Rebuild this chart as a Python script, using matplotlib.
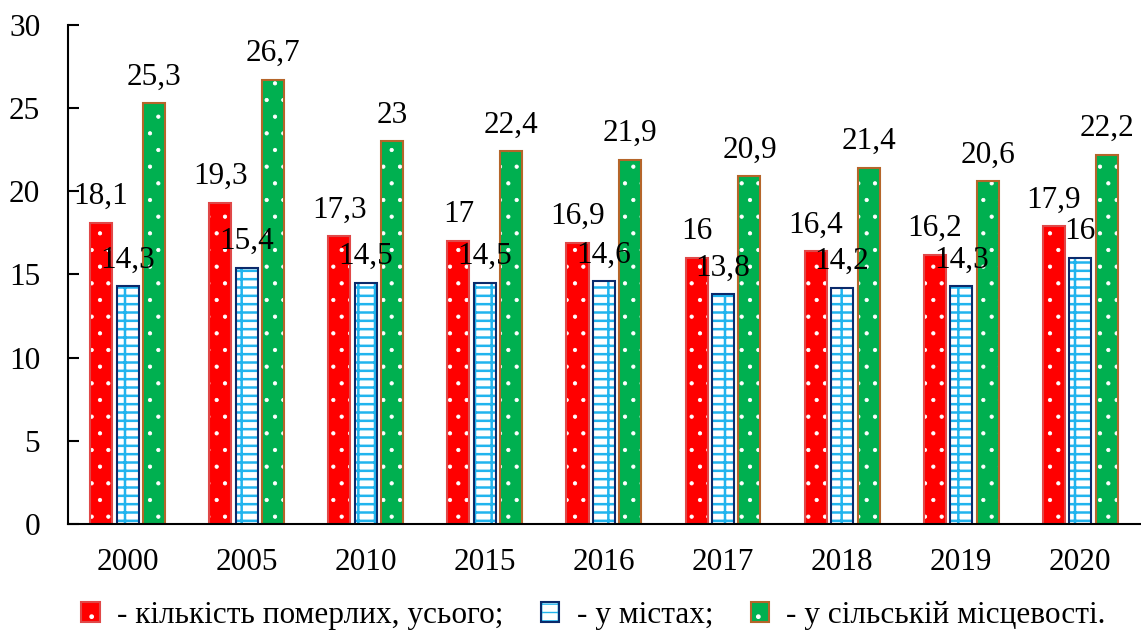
import numpy as np
import matplotlib.pyplot as plt

plt.rcParams['font.family'] = ['Liberation Serif', 'DejaVu Serif']

years = ['2000', '2005', '2010', '2015', '2016', '2017', '2018', '2019', '2020']
total = [18.1, 19.3, 17.3, 17, 16.9, 16, 16.4, 16.2, 17.9]
cities = [14.3, 15.4, 14.5, 14.5, 14.6, 13.8, 14.2, 14.3, 16]
rural = [25.3, 26.7, 23, 22.4, 21.9, 20.9, 21.4, 20.6, 22.2]
names = ['- кількість померлих, усього;', '- у містах;', '- у сільській місцевості.']

fig = plt.figure(figsize=(11.41, 6.38), dpi=100)
ax = fig.add_axes([0.0596, 0.1787, 0.9394, 0.7821])

x = np.arange(len(years))
w = 0.185
off = 0.222

series = [
    (total, -off, '#FF0000', 'white', '.', '#E04848', 0.6),
    (cities, 0, 'white', '#21B4EE', '+-', '#0B2A6B', 1.8),
    (rural, off, '#00B050', 'white', '.', '#B5652A', 0.6),
]

handles = []
for vals, dx, face, hcol, hatch, edge, hlw in series:
    with plt.rc_context({'hatch.linewidth': hlw}):
        b1 = ax.bar(x + dx, vals, w, color=face, edgecolor=hcol, hatch=hatch, linewidth=0)
    b2 = ax.bar(x + dx, vals, w, fill=False, edgecolor=edge, linewidth=1.5)
    handles.append((b1, b2))
    for xi, v in zip(x + dx, vals):
        ax.annotate(f'{v:g}'.replace('.', ','), (xi, v), xytext=(0, 13.5),
                    textcoords='offset points', ha='center', va='baseline',
                    fontsize=22.5)

ax.set_xlim(-0.5, 8.5)
ax.set_ylim(0, 30)
ax.set_yticks(range(0, 31, 5))
ax.set_xticks(x)
ax.set_xticklabels(years)
ax.spines['top'].set_visible(False)
ax.spines['right'].set_visible(False)
ax.spines['left'].set_linewidth(1.5)
ax.spines['bottom'].set_linewidth(1.5)
ax.tick_params(axis='y', direction='in', length=8, width=1.5, pad=20, labelsize=22.5)
ax.tick_params(axis='x', length=0, pad=17, labelsize=22.5)

fig.legend(handles, names, loc='lower center', bbox_to_anchor=(0.52, -0.032), ncol=3,
           frameon=False, prop={'family': 'Liberation Serif', 'size': 22.5},
           handlelength=0.6, handleheight=0.6, columnspacing=1.2, handletextpad=0.55)

fig.savefig('out.png', dpi=100)
